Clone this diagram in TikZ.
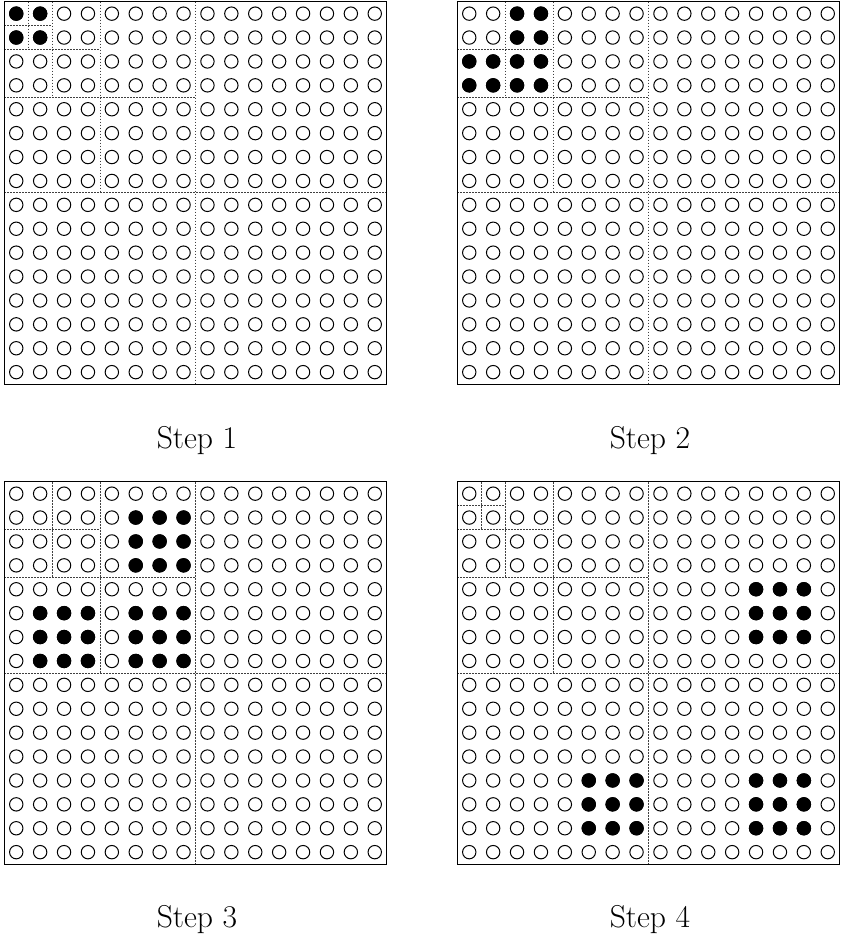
\documentclass[tikz,border=0pt]{standalone}
\tikzset{
  opendot/.style={draw=black, line width=0.5pt},
  fulldot/.style={fill=black, draw=black, line width=0.5pt},
  divline/.style={draw=black!75, line width=0.4pt, dash pattern=on 0.9pt off 0.6pt},
  frameline/.style={draw=black, line width=0.6pt},
  steplabel/.style={font=\fontsize{15.8}{19}\selectfont, anchor=base, inner sep=0pt},
  cellunits/.style={x=11.95pt, y=-11.95pt}
}
\newcommand\gridcircles{%
  \foreach \i in {0,...,15}{\foreach \j in {0,...,15}{\draw[opendot] (\i+0.5,\j+0.5) circle (0.28);}}}
\newcommand\gridframe{%
  \draw[divline] (8,0)--(8,16) (0,8)--(16,8) (4,0)--(4,8) (0,4)--(8,4);
  \draw[frameline] (0,0) rectangle (16,16);}
\newcommand\fillblock[2]{%
  \foreach \r in {#1}{\foreach \c in {#2}{\draw[fulldot] (\c+0.5,\r+0.5) circle (0.28);}}}
\begin{document}
\begin{tikzpicture}[x=0.5pt, y=-0.5pt]
\useasboundingbox (0,0) rectangle (841,936);

% Step 1
\begin{scope}[shift={(4.3,1.7)}, cellunits]
  \gridcircles
  \draw[divline] (2,0)--(2,4) (0,2)--(4,2) (1,0)--(1,2) (0,1)--(2,1);
  \gridframe
  \fillblock{0,1}{0,1}
\end{scope}
\node[steplabel] (s1) at (197,448) {Step 1};

% Step 2
\begin{scope}[shift={(457.3,1.7)}, cellunits]
  \gridcircles
  \draw[divline] (2,0)--(2,4) (0,2)--(4,2);
  \gridframe
  \fillblock{0,1}{2,3}
  \fillblock{2,3}{0,1,2,3}
\end{scope}
\node[steplabel] (s2) at (650,448) {Step 2};

% Step 3
\begin{scope}[shift={(4.3,481.7)}, cellunits]
  \gridcircles
  \draw[divline] (2,0)--(2,4) (0,2)--(4,2);
  \gridframe
  \fillblock{1,2,3}{5,6,7}
  \fillblock{5,6,7}{1,2,3}
  \fillblock{5,6,7}{5,6,7}
\end{scope}
\node[steplabel] (s3) at (197,927) {Step 3};

% Step 4
\begin{scope}[shift={(457.3,481.7)}, cellunits]
  \gridcircles
  \draw[divline] (2,0)--(2,4) (0,2)--(4,2) (1,0)--(1,2) (0,1)--(2,1);
  \gridframe
  \fillblock{4,5,6}{12,13,14}
  \fillblock{12,13,14}{5,6,7}
  \fillblock{12,13,14}{12,13,14}
\end{scope}
\node[steplabel] (s4) at (650,927) {Step 4};
\end{tikzpicture}
\end{document}
